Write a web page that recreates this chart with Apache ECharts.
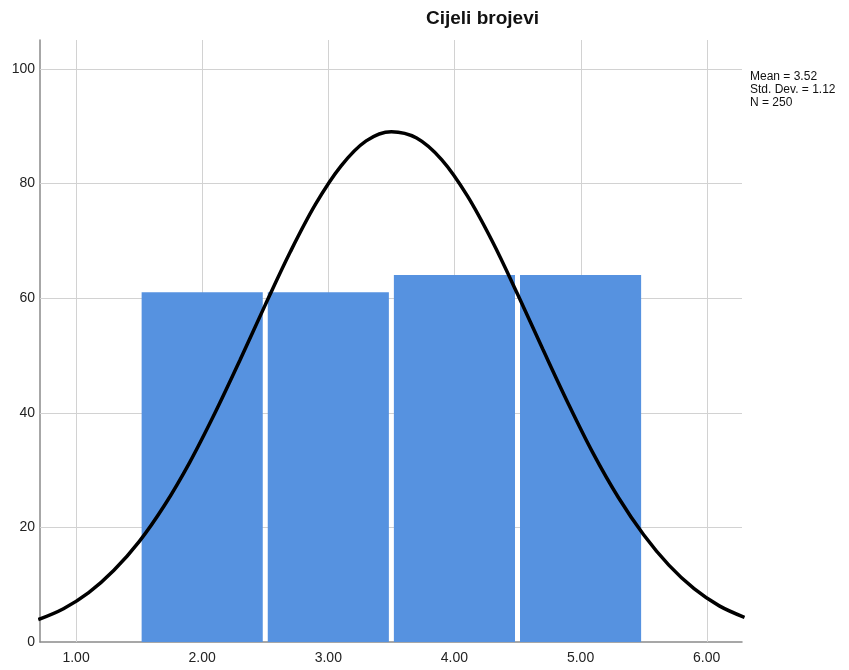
<!DOCTYPE html>
<html>
<head>
<meta charset="utf-8">
<script src="https://cdn.jsdelivr.net/npm/echarts@6/dist/echarts.min.js"></script>
<style>html,body{margin:0;padding:0;background:#fff}#c{width:849px;height:670px}</style>
</head>
<body>
<div id="c"></div>
<script>
// Histogram bins (lower edge, upper edge) and counts
var binStart = [1.5, 2.5, 3.5, 4.5];
var binEnd = [2.5, 3.5, 4.5, 5.5];
var counts = [61, 61, 64, 64];
// Normal curve
var curveX = [0.7, 0.9, 1.1, 1.3, 1.5, 1.7, 1.9, 2.1, 2.3, 2.5, 2.7, 2.9, 3.1, 3.3, 3.5, 3.7, 3.9, 4.1, 4.3, 4.5, 4.7, 4.9, 5.1, 5.3, 5.5, 5.7, 5.9, 6.1, 6.3];
var curveY = [3.9, 5.8, 8.6, 12.5, 17.5, 23.8, 31.3, 39.9, 49.2, 58.8, 68.1, 76.4, 83.0, 87.4, 89.0, 87.9, 84.1, 77.9, 69.9, 60.7, 51.1, 41.7, 32.9, 25.2, 18.7, 13.4, 9.3, 6.3, 4.3];
var xTicks = [1, 2, 3, 4, 5, 6];
var yTicks = [0, 20, 40, 60, 80, 100];
var statsLines = ['Mean = 3.52', 'Std. Dev. = 1.12', 'N = 250'];

var barData = binStart.map(function (s, i) { return [s, binEnd[i], counts[i]]; });
var curveData = curveX.map(function (x, i) { return [x, curveY[i]]; });
var vGridData = xTicks.map(function (v) { return [v, 0]; });
var hGridData = yTicks.slice(1).map(function (v) { return [1, v]; });
var gridColor = '#d2d2d2';

var chart = echarts.init(document.getElementById('c'));
chart.setOption({
  animation: false,
  backgroundColor: '#fff',
  textStyle: { fontFamily: 'Liberation Sans, Arial, sans-serif' },
  title: {
    text: 'Cijeli brojevi',
    left: 421, top: 4,
    textStyle: { fontSize: 19, fontWeight: 'bold', color: '#111', fontFamily: 'Liberation Sans, Arial, sans-serif' }
  },
  graphic: [{
    type: 'text', left: 750, top: 70,
    style: { text: statsLines.join('\n'), font: '12px "Liberation Sans", Arial, sans-serif', fill: '#111', lineHeight: 13 }
  }],
  grid: { left: 40, right: 107, top: 40, bottom: 28, containLabel: false },
  xAxis: {
    type: 'value', min: 0.714, max: 6.28,
    axisLine: { show: true, lineStyle: { color: '#8a8a8a', width: 1.5 } },
    axisTick: { show: false },
    splitLine: { show: false },
    axisLabel: {
      color: '#222', fontSize: 14, margin: 9,
      customValues: xTicks,
      formatter: function (v) { return v.toFixed(2); }
    }
  },
  yAxis: {
    type: 'value', min: 0, max: 105,
    axisLine: { show: true, lineStyle: { color: '#8a8a8a', width: 1.5 } },
    axisTick: { show: false },
    splitLine: { show: false },
    axisLabel: {
      color: '#222', fontSize: 14, margin: 5,
      customValues: yTicks,
      formatter: function (v) { return String(v); }
    }
  },
  series: [
    {
      type: 'custom', z: 1, silent: true, clip: false,
      data: vGridData,
      renderItem: function (params, api) {
        var cs = params.coordSys;
        var p = api.coord([api.value(0), 0]);
        var x = Math.round(p[0]) + 0.5;
        return { type: 'line', shape: { x1: x, y1: cs.y, x2: x, y2: cs.y + cs.height }, style: { stroke: gridColor, lineWidth: 1 } };
      }
    },
    {
      type: 'custom', z: 1, silent: true, clip: false,
      data: hGridData,
      renderItem: function (params, api) {
        var cs = params.coordSys;
        var p = api.coord([1, api.value(1)]);
        var y = Math.round(p[1]) + 0.5;
        return { type: 'line', shape: { x1: cs.x, y1: y, x2: cs.x + cs.width, y2: y }, style: { stroke: gridColor, lineWidth: 1 } };
      }
    },
    {
      type: 'custom', z: 10,
      data: barData,
      encode: { x: [0, 1], y: 2 },
      renderItem: function (params, api) {
        var p0 = api.coord([api.value(0), api.value(2)]);
        var p1 = api.coord([api.value(1), 0]);
        var gap = 2.5;
        return {
          type: 'rect',
          shape: { x: p0[0] + gap, y: p0[1], width: p1[0] - p0[0] - 2 * gap, height: p1[1] - p0[1] },
          style: { fill: '#5692e0' }
        };
      }
    },
    {
      type: 'line', z: 11, data: curveData, smooth: 0.35, showSymbol: false, clip: true,
      lineStyle: { color: '#000', width: 3.5 }
    }
  ]
});
</script>
</body>
</html>
